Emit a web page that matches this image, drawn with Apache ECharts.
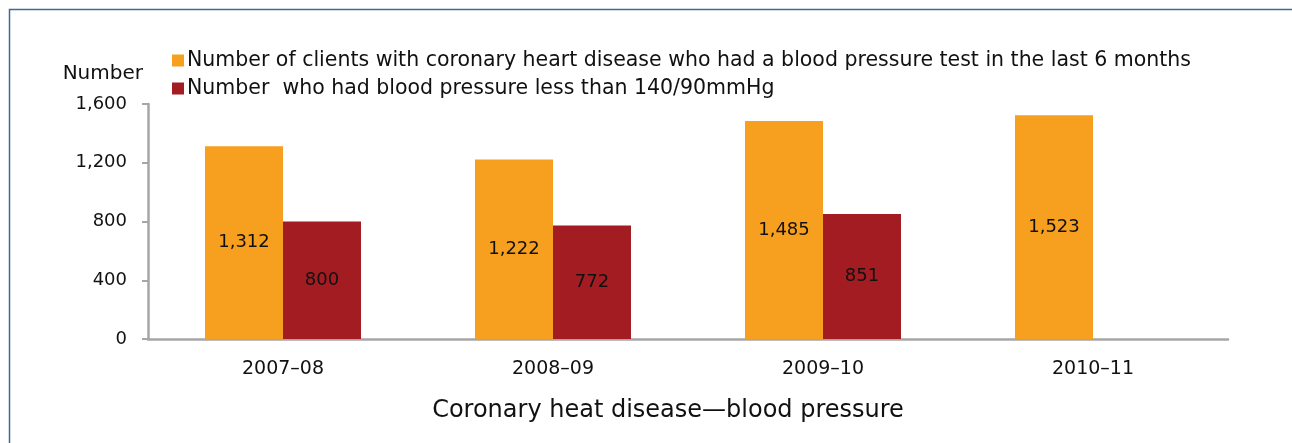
<!DOCTYPE html>
<html>
<head>
<meta charset="utf-8">
<script src="https://cdn.jsdelivr.net/npm/echarts@6/dist/echarts.min.js"></script>
<style>
  html, body { margin: 0; padding: 0; background: #fff; }
  #chart { width: 1292px; height: 443px; }
</style>
</head>
<body>
<div id="chart"></div>
<script>
var categories = ['2007\u201308', '2008\u201309', '2009\u201310', '2010\u201311'];
var testedValues = [1312, 1222, 1485, 1523];
var under140Values = [800, 772, 851, null];
var yTicks = [0, 400, 800, 1200, 1600];
var seriesNames = [
	'Number of clients with coronary heart disease who had a blood pressure test in the last 6 months',
	'Number  who had blood pressure less than 140/90mmHg'
];

var font = 'DejaVu Sans';
var myChart = echarts.init(document.getElementById('chart'));

// 数值标签，千分位
function fmt(p) {
	return p.value.toLocaleString('en-US');
}

myChart.setOption({
	animation: false,
	textStyle: { fontFamily: font },
	graphic: [{
		type: 'polyline',
		shape: { points: [[9.5, 443], [9.5, 9.5], [1292, 9.5]] },
		style: { stroke: '#3f689c', lineWidth: 1.5, fill: null }
	}],
	legend: {
		orient: 'vertical',
		left: 172,
		top: 50,
		padding: 0,
		itemWidth: 12,
		itemHeight: 12,
		itemGap: 7,
		icon: 'rect',
		textStyle: { fontSize: 20.5, lineHeight: 20, color: '#111', fontFamily: font, padding: [0, 0, 0, -2] },
		data: seriesNames
	},
	grid: { left: 148, right: 64, top: 104, bottom: 104 },
	xAxis: {
		type: 'category',
		data: categories,
		name: 'Coronary heat disease\u2014blood pressure',
		nameLocation: 'middle',
		nameGap: 60,
		nameTextStyle: { fontSize: 24, color: '#111', fontFamily: font, padding: [0, 40, 0, 0] },
		axisLine: { lineStyle: { color: '#a6a6a6', width: 2.5 } },
		axisTick: { show: false },
		axisLabel: { fontSize: 19, color: '#111', margin: 21 }
	},
	yAxis: {
		type: 'value',
		min: 0,
		max: 1600,
		interval: 400,
		name: 'Number',
		nameLocation: 'end',
		nameGap: 20,
		nameTextStyle: { fontSize: 20, color: '#111', align: 'right', padding: [0, 5, 0, 0] },
		axisLine: { show: true, lineStyle: { color: '#a6a6a6', width: 2.5 } },
		axisTick: { show: true, length: 6, lineStyle: { color: '#a6a6a6', width: 2 } },
		splitLine: { show: false },
		axisLabel: {
			fontSize: 18,
			color: '#111',
			margin: 21,
			formatter: function (v) {
				return yTicks.indexOf(v) >= 0 ? v.toLocaleString('en-US') : '';
			}
		}
	},
	series: [{
		name: seriesNames[0],
		type: 'bar',
		data: testedValues,
		barWidth: 78,
		barGap: '0%',
		itemStyle: { color: '#f79f1f' },
		label: { show: true, position: 'inside', fontSize: 18, color: '#111', formatter: fmt }
	}, {
		name: seriesNames[1],
		type: 'bar',
		data: under140Values,
		barWidth: 78,
		barGap: '0%',
		itemStyle: { color: '#a31c22' },
		label: { show: true, position: 'inside', fontSize: 18, color: '#111', formatter: fmt }
	}]
});
</script>
</body>
</html>
